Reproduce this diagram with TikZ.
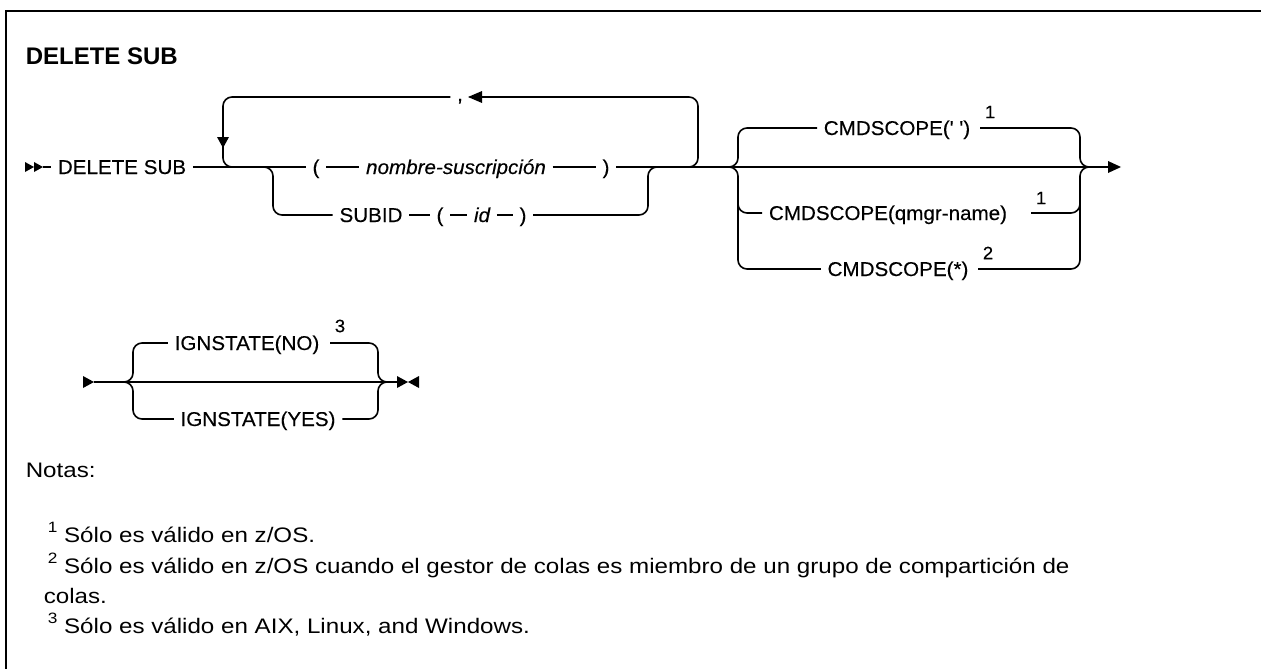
\documentclass[tikz,border=0pt]{standalone}
\usepackage{fontspec}
\setmainfont{Liberation Sans}
\newfontfamily\diagfont{Liberation Sans}[FakeStretch=1.03,FakeBold=0.3]
\newfontfamily\notefont{Liberation Sans}[FakeStretch=1.15]
\begin{document}
\begin{tikzpicture}[x=1pt,y=-1pt,line width=1.6pt,
  lbl/.style={inner xsep=6pt,inner ysep=0pt,text height=14pt,text depth=0pt,font=\diagfont\fontsize{20}{24}\selectfont},
  supn/.style={inner sep=0pt,font=\diagfont\fontsize{18}{20}\selectfont},
  rc/.style={rounded corners=9pt},
  notetxt/.style={inner sep=0pt,anchor=base west,font=\notefont\fontsize{21}{25}\selectfont},
  tipfill/.style={fill=black,draw=none}]
\newcommand{\nsup}[1]{{\fontsize{15}{15}\selectfont\raisebox{10pt}{#1}}}
\useasboundingbox (0,0) rectangle (1261,669);
\draw[line width=2pt] (6,669) -- (6,11) -- (1261,11);
% title
\node[inner sep=0pt,anchor=west,font=\fontsize{24}{28}\selectfont\bfseries] (title) at (25,56) {DELETE SUB};
% ---------- row 1 ----------
\coordinate (st) at (43,167);
\fill[tipfill] (25,162) -- (34,167) -- (25,172) -- cycle;
\fill[tipfill] (34,162) -- (43,167) -- (34,172) -- cycle;
\node[lbl] (ds) at (122,167) {DELETE SUB};
\node[lbl] (lp1) at (316,167) {(};
\node[lbl] (nm) at (456,167) {\itshape nombre-suscripción};
\node[lbl] (rp1) at (606,167) {)};
\coordinate (endc) at (1108,167);
\draw (st) -- (ds);
\draw (ds) -- (lp1);
\draw (lp1) -- (nm);
\draw (nm) -- (rp1);
\draw (rp1) -- (endc);
\fill[tipfill] (1108,161) -- (1121,167) -- (1108,173) -- cycle;
% repeat loop
\node[lbl,text height=8pt] (cm) at (460,97) {,};
\coordinate (j3) at (680,167);
\coordinate (cr) at (698,97);
\coordinate (cl) at (223,167);
\coordinate (j4) at (240,167);
\draw[rc] (j3) -| (cr) -- (cm);
\draw[rc] (cm) -| (cl) -- (j4);
\fill[tipfill] (217,137) -- (229,137) -- (223,148) -- cycle;
\fill[tipfill] (482,91) -- (468,97) -- (482,103) -- cycle;
% SUBID row
\node[lbl] (sb) at (371,215) {SUBID};
\node[lbl] (lp2) at (440,215) {(};
\node[lbl] (idn) at (482,215) {\itshape id};
\node[lbl] (rp2) at (523,215) {)};
\coordinate (j0) at (263,167);
\coordinate (sbc) at (273,215);
\coordinate (j2) at (648,167);
\coordinate (j2r) at (660,167);
\draw[rc] (j0) -| (sbc) -- (sb);
\draw (sb) -- (lp2);
\draw (lp2) -- (idn);
\draw (idn) -- (rp2);
\draw[rc] (rp2) -| (j2) -- (j2r);
% ---------- CMDSCOPE ----------
\node[lbl] (c1) at (897,128) {CMDSCOPE(' ')};
\node[lbl] (c2) at (888,213) {CMDSCOPE(qmgr-name)};
\node[lbl] (c3) at (898,269) {CMDSCOPE(*)};
\node[supn] (s1) at (990,112) {1};
\node[supn] (s2) at (1041,198) {1};
\node[supn] (s3) at (988,253) {2};
\coordinate (jl) at (728,167);
\coordinate (lt) at (738,128);
\coordinate (lb) at (738,269);
\coordinate (lm) at (738,200);
\coordinate (r1) at (980,128);
\coordinate (r2) at (1031,213);
\coordinate (r3) at (978,269);
\coordinate (rj) at (1080,167);
\coordinate (rj2) at (1090,167);
\coordinate (rm) at (1080,200);
\draw[rc] (jl) -| (lt) -- (c1);
\draw[rc] (jl) -| (lb) -- (c3);
\draw[rc] (lm) |- (c2);
\draw[rc] (r1) -| (rj) -- (rj2);
\draw[rc] (r3) -| (rj) -- (rj2);
\draw[rc] (r2) -| (rm);
% ---------- row 2 ----------
\coordinate (st2) at (94,382);
\coordinate (en2) at (397,382);
\fill[tipfill] (83,376) -- (94,382) -- (83,388) -- cycle;
\draw (st2) -- (en2);
\fill[tipfill] (397,376) -- (408,382) -- (397,388) -- cycle;
\fill[tipfill] (419,376) -- (408,382) -- (419,388) -- cycle;
\node[lbl] (n1) at (247,343) {IGNSTATE(NO)};
\node[lbl] (n2) at (258,419) {IGNSTATE(YES)};
\node[supn] (s4) at (340,326) {3};
\coordinate (bl) at (125,382);
\coordinate (blt) at (133,343);
\coordinate (blb) at (133,419);
\coordinate (q1) at (330,343);
\coordinate (brj) at (378,382);
\coordinate (brj2) at (387,382);
\draw[rc] (bl) -| (blt) -- (n1);
\draw[rc] (bl) -| (blb) -- (n2);
\draw[rc] (q1) -| (brj) -- (brj2);
\draw[rc] (n2) -| (brj) -- (brj2);
% ---------- notes ----------
\node[notetxt] (notas) at (25,477) {Notas:};
\node[notetxt] (nt1) at (47,542) {\nsup{1} Sólo es válido en z/OS.};
\node[notetxt] (nt2) at (47,573) {\nsup{2} Sólo es válido en z/OS cuando el gestor de colas es miembro de un grupo de compartición de};
\node[notetxt] (nt2b) at (43,603) {colas.};
\node[notetxt] (nt3) at (47,633) {\nsup{3} Sólo es válido en AIX, Linux, and Windows.};
\end{tikzpicture}
\end{document}
